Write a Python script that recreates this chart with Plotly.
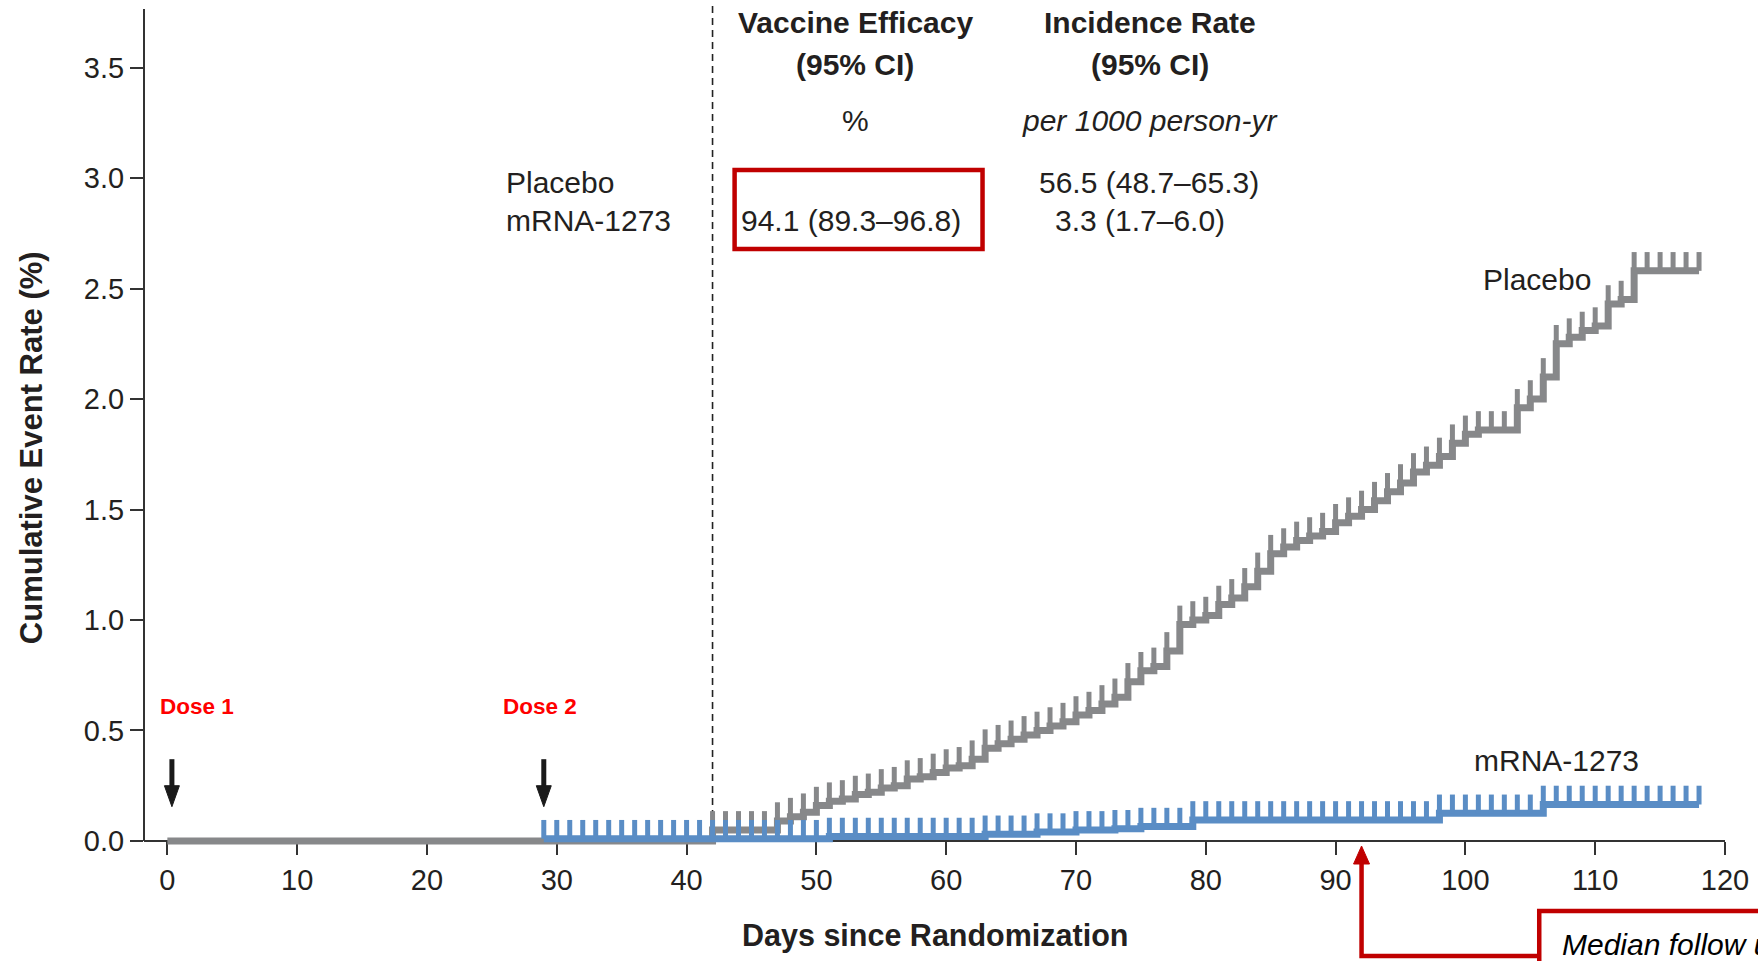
import plotly.graph_objects as go

# ---------------- data ----------------
x_tick_vals = [0, 10, 20, 30, 40, 50, 60, 70, 80, 90, 100, 110, 120]
y_tick_vals = [0.0, 0.5, 1.0, 1.5, 2.0, 2.5, 3.0, 3.5]

placebo_start_day = 0
placebo_days = list(range(42, 119))
placebo_rate = [
    0.05, 0.05, 0.05, 0.05, 0.05, 0.09, 0.11, 0.13, 0.16,        # 42-50
    0.18, 0.19, 0.21, 0.22, 0.24, 0.25, 0.28, 0.29, 0.31, 0.33,  # 51-60
    0.34, 0.37, 0.42, 0.44, 0.46, 0.48, 0.50, 0.52, 0.54, 0.57,  # 61-70
    0.59, 0.62, 0.65, 0.72, 0.77, 0.79, 0.86, 0.98, 1.00, 1.02,  # 71-80
    1.07, 1.10, 1.15, 1.22, 1.30, 1.33, 1.36, 1.38, 1.40, 1.44,  # 81-90
    1.47, 1.50, 1.54, 1.58, 1.62, 1.67, 1.70, 1.74, 1.80, 1.84,  # 91-100
    1.86, 1.86, 1.86, 1.96, 2.00, 2.10, 2.25, 2.28, 2.31, 2.33,  # 101-110
    2.43, 2.45, 2.58, 2.58, 2.58, 2.58, 2.58, 2.58,              # 111-118
]

mrna_days = list(range(29, 119))
mrna_rate = [
    0.01, 0.01, 0.01, 0.01, 0.01, 0.01, 0.01, 0.01, 0.01, 0.01,            # 29-38
    0.01, 0.01, 0.01, 0.01, 0.01, 0.01, 0.01, 0.01, 0.01, 0.01,            # 39-48
    0.01, 0.01, 0.02, 0.02, 0.02, 0.02, 0.02, 0.02, 0.02, 0.02,            # 49-58
    0.02, 0.02, 0.02, 0.02, 0.03, 0.03, 0.03, 0.03, 0.04, 0.04,            # 59-68
    0.04, 0.05, 0.05, 0.05, 0.055, 0.055, 0.065, 0.065, 0.065, 0.065,      # 69-78
    0.095, 0.095, 0.095, 0.095, 0.095, 0.095, 0.095, 0.095, 0.095, 0.095,  # 79-88
    0.095, 0.095, 0.095, 0.095, 0.095, 0.095, 0.095, 0.095, 0.095, 0.125,  # 89-98
    0.125, 0.125, 0.125, 0.125, 0.125, 0.125, 0.125, 0.165, 0.165, 0.165,  # 99-108
    0.165, 0.165, 0.165, 0.165, 0.165, 0.165, 0.165, 0.165, 0.165, 0.165,  # 109-118
]

dose_days = [0.35, 29.0]
dose_labels = ["Dose 1", "Dose 2"]
dose_label_days = [2.25, 28.7]
cutoff_day = 42
median_followup_day = 92

table_header_1 = ["Vaccine Efficacy", "(95% CI)", "%"]
table_header_2 = ["Incidence Rate", "(95% CI)", "per 1000 person-yr"]
group_names = ["Placebo", "mRNA-1273"]
vaccine_efficacy = "94.1 (89.3–96.8)"
incidence_rates = ["56.5 (48.7–65.3)", "3.3 (1.7–6.0)"]

# ---------------- style / geometry ----------------
W, H = 1758, 961
ML, MR, MT, MB = 144, 31, 9, 109
XMIN, XMAX = -1.8, 120
YMIN, YMAX = -0.05, 3.765
PW, PH = W - ML - MR, H - MT - MB

GRAY = "#87888a"
BLUE = "#5a8dc5"
DARK = "#231f20"
RED = "#ff0000"
DRED = "#c00000"
FONT = "Liberation Sans, Arial, sans-serif"
TICK_H = 0.085
TXT = 30


def px_x(px):
    return (px - ML) / PW


def px_y(py):
    return (H - MB - py) / PH


def paper_x_of_day(d):
    return (d - XMIN) / (XMAX - XMIN)


def paper_y_of_val(v):
    return (v - YMIN) / (YMAX - YMIN)


def comb(days, vals, h):
    xs, ys = [], []
    for d, v in zip(days, vals):
        xs += [d, d, None]
        ys += [v, v + h, None]
    return xs, ys


fig = go.Figure()

# placebo
fig.add_trace(go.Scatter(
    x=[placebo_start_day] + placebo_days, y=[0.0] + placebo_rate,
    mode="lines", line=dict(color=GRAY, width=7, shape="hv"),
    hoverinfo="skip", showlegend=False))
px_, py_ = comb(placebo_days, placebo_rate, TICK_H)
fig.add_trace(go.Scatter(x=px_, y=py_, mode="lines",
                         line=dict(color=GRAY, width=5),
                         hoverinfo="skip", showlegend=False))
# mRNA-1273
fig.add_trace(go.Scatter(
    x=mrna_days, y=mrna_rate,
    mode="lines", line=dict(color=BLUE, width=7, shape="hv"),
    hoverinfo="skip", showlegend=False))
mx_, my_ = comb(mrna_days, mrna_rate, TICK_H)
fig.add_trace(go.Scatter(x=mx_, y=my_, mode="lines",
                         line=dict(color=BLUE, width=5),
                         hoverinfo="skip", showlegend=False))

shapes = []
annotations = []

# y axis line (from 0 to top)
shapes.append(dict(type="line", xref="paper", yref="y", x0=0, x1=0, y0=0, y1=YMAX,
                   line=dict(color="#333333", width=2), layer="below"))
# dashed cutoff line
shapes.append(dict(type="line", xref="x", yref="paper", x0=cutoff_day, x1=cutoff_day,
                   y0=paper_y_of_val(0), y1=1.004,
                   line=dict(color="#222222", width=1.6, dash="7px,5px"), layer="below"))

# dose arrows
head_half_w = 7.5 / 13.0
head_h = 0.095
for d, lab, ld in zip(dose_days, dose_labels, dose_label_days):
    tip = 0.155
    top = 0.37
    shapes.append(dict(type="line", xref="x", yref="y", x0=d, x1=d, y0=top, y1=tip + head_h * 0.8,
                       line=dict(color="#1a1a1a", width=5)))
    shapes.append(dict(type="path", xref="x", yref="y",
                       path=f"M {d - head_half_w},{tip + head_h} L {d + head_half_w},{tip + head_h} L {d},{tip} Z",
                       fillcolor="#1a1a1a", line=dict(color="#1a1a1a", width=1)))
    annotations.append(dict(x=ld, y=0.61, xref="x", yref="y", text=f"<b>{lab}</b>",
                            showarrow=False, font=dict(family=FONT, size=22.5, color=RED),
                            xanchor="center", yanchor="middle"))

# table headers
col1_day, col2_day = 53.0, 75.7
for i, (t1, t2) in enumerate(zip(table_header_1, table_header_2)):
    yv = [3.706, 3.516, 3.26][i]
    if i < 2:
        s1, s2 = f"<b>{t1}</b>", f"<b>{t2}</b>"
    else:
        s1, s2 = t1, f"<i>{t2}</i>"
    annotations.append(dict(x=col1_day, y=yv, xref="x", yref="y", text=s1, showarrow=False,
                            font=dict(family=FONT, size=TXT, color=DARK), xanchor="center", yanchor="middle"))
    annotations.append(dict(x=col2_day, y=yv, xref="x", yref="y", text=s2, showarrow=False,
                            font=dict(family=FONT, size=TXT, color=DARK), xanchor="center", yanchor="middle"))

row_vals = [2.98, 2.81]
for name, yv in zip(group_names, row_vals):
    annotations.append(dict(x=25.9, y=yv, xref="x", yref="y", text=name, showarrow=False,
                            font=dict(family=FONT, size=TXT, color=DARK), xanchor="left", yanchor="middle"))
annotations.append(dict(x=75.6, y=row_vals[0], xref="x", yref="y", text=incidence_rates[0], showarrow=False,
                        font=dict(family=FONT, size=TXT, color=DARK), xanchor="center", yanchor="middle"))
annotations.append(dict(x=74.9, y=row_vals[1], xref="x", yref="y", text=incidence_rates[1], showarrow=False,
                        font=dict(family=FONT, size=TXT, color=DARK), xanchor="center", yanchor="middle"))
annotations.append(dict(x=52.7, y=row_vals[1], xref="x", yref="y", text=vaccine_efficacy, showarrow=False,
                        font=dict(family=FONT, size=TXT, color=DARK), xanchor="center", yanchor="middle"))
# red highlight box
shapes.append(dict(type="rect", xref="x", yref="y", x0=43.7, x1=62.8, y0=2.679, y1=3.036,
                   line=dict(color=DRED, width=4.5), fillcolor="rgba(0,0,0,0)"))

# curve labels
annotations.append(dict(x=105.5, y=2.54, xref="x", yref="y", text=group_names[0], showarrow=False,
                        font=dict(family=FONT, size=TXT, color=DARK), xanchor="center", yanchor="middle"))
annotations.append(dict(x=107.0, y=0.366, xref="x", yref="y", text=group_names[1], showarrow=False,
                        font=dict(family=FONT, size=TXT, color=DARK), xanchor="center", yanchor="middle"))

# axis titles
annotations.append(dict(x=0.5, y=px_y(936), xref="paper", yref="paper",
                        text="<b>Days since Randomization</b>", showarrow=False,
                        font=dict(family=FONT, size=30.5, color=DARK), xanchor="center", yanchor="middle"))
annotations.append(dict(x=px_x(31), y=px_y(448), xref="paper", yref="paper",
                        text="<b>Cumulative Event Rate (%)</b>", showarrow=False, textangle=-90,
                        font=dict(family=FONT, size=31, color=DARK), xanchor="center", yanchor="middle"))

# median follow-up callout
mx_paper = paper_x_of_day(median_followup_day)
shapes.append(dict(type="path", xref="paper", yref="paper",
                   path=f"M {mx_paper},{px_y(862)} L {mx_paper},{px_y(956)} L {px_x(1541)},{px_y(956)}",
                   line=dict(color=DRED, width=4.5)))
shapes.append(dict(type="path", xref="paper", yref="paper",
                   path=(f"M {mx_paper - 8 / PW},{px_y(864)} L {mx_paper + 8 / PW},{px_y(864)} "
                         f"L {mx_paper},{px_y(846)} Z"),
                   fillcolor=DRED, line=dict(color=DRED, width=1)))
shapes.append(dict(type="rect", xref="paper", yref="paper",
                   x0=px_x(1541), x1=px_x(1800), y0=px_y(911), y1=px_y(1010),
                   line=dict(color=DRED, width=4.5), fillcolor="white"))
annotations.append(dict(x=px_x(1562), y=px_y(944), xref="paper", yref="paper",
                        text="<i>Median follow up</i>", showarrow=False,
                        font=dict(family=FONT, size=30, color="#000000"), xanchor="left", yanchor="middle"))

fig.update_layout(
    width=W, height=H,
    margin=dict(l=ML, r=MR, t=MT, b=MB),
    paper_bgcolor="white", plot_bgcolor="white",
    showlegend=False,
    shapes=shapes, annotations=annotations,
    xaxis=dict(range=[XMIN, XMAX], tickvals=x_tick_vals, ticks="outside", ticklen=13, tickwidth=2,
               tickcolor="#333333", showline=True, linecolor="#333333", linewidth=2,
               showgrid=False, zeroline=False, anchor="free", position=paper_y_of_val(0),
               layer="below traces",
               tickfont=dict(family=FONT, size=29, color=DARK)),
    yaxis=dict(range=[YMIN, YMAX], tickvals=y_tick_vals, tickformat=".1f", ticks="outside", ticklen=13,
               tickwidth=2, tickcolor="#333333", showline=False, showgrid=False, zeroline=False,
               layer="below traces",
               tickfont=dict(family=FONT, size=29, color=DARK)),
)

fig.write_html("out.html")
